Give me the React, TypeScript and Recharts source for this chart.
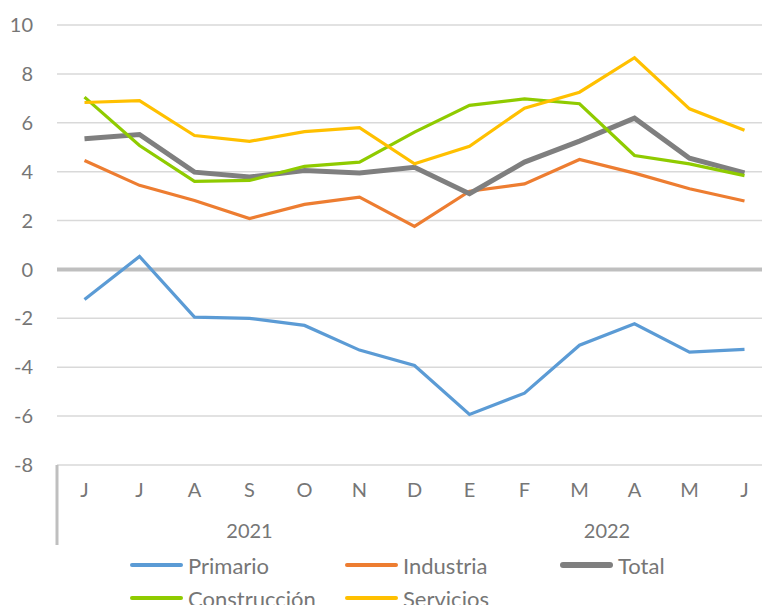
import { LineChart, Line, XAxis, YAxis, CartesianGrid, ReferenceLine } from "recharts";

const months = ["J", "J", "A", "S", "O", "N", "D", "E", "F", "M", "A", "M", "J"];
const years = ["2021", "2021", "2021", "2021", "2021", "2021", "2021", "2022", "2022", "2022", "2022", "2022", "2022"];
const primario = [-1.23, 0.53, -1.95, -2.0, -2.29, -3.3, -3.93, -5.93, -5.06, -3.1, -2.22, -3.38, -3.27];
const industria = [4.46, 3.44, 2.82, 2.08, 2.66, 2.96, 1.76, 3.2, 3.5, 4.5, 3.94, 3.3, 2.8];
const total = [5.35, 5.52, 3.98, 3.78, 4.05, 3.95, 4.18, 3.1, 4.39, 5.25, 6.19, 4.55, 3.95];
const construccion = [7.05, 5.07, 3.6, 3.64, 4.22, 4.39, 5.62, 6.71, 6.98, 6.78, 4.66, 4.32, 3.84];
const servicios = [6.83, 6.91, 5.48, 5.24, 5.64, 5.8, 4.32, 5.04, 6.6, 7.25, 8.66, 6.57, 5.69];
const yTicks = [-8, -6, -4, -2, 0, 2, 4, 6, 8, 10];

const series = [
  { key: "primario", name: "Primario", color: "#5B9BD5", width: 3.2 },
  { key: "industria", name: "Industria", color: "#ED7D31", width: 3.2 },
  { key: "total", name: "Total", color: "#7F7F7F", width: 5 },
  { key: "construccion", name: "Construcción", color: "#8FCB00", width: 3.2 },
  { key: "servicios", name: "Servicios", color: "#FFC000", width: 3.2 },
];

const data = months.map((m, i) => ({
  month: m,
  year: years[i],
  primario: primario[i],
  industria: industria[i],
  total: total[i],
  construccion: construccion[i],
  servicios: servicios[i],
}));

const W = 780;
const H = 605;
const AXIS_W = 57;
const RIGHT = 8;
const BAND = (W - AXIS_W - RIGHT) / months.length;
const FONT = "Lato, 'Open Sans', sans-serif";
const TXT = "#767676";

function MonthTick(props: any) {
  const { x, y, payload, index } = props;
  const yr = years[index];
  const first = years.indexOf(yr);
  const last = years.lastIndexOf(yr);
  return (
    <g>
      <text x={x} y={y} dy={20} textAnchor="middle" fill={TXT} fontSize={20} fontFamily={FONT}>
        {payload.value}
      </text>
      {index === first && (
        <text x={x + ((last - first) / 2) * BAND} y={y} dy={61} textAnchor="middle" fill={TXT} fontSize={20} fontFamily={FONT}>
          {yr}
        </text>
      )}
      {index === 0 && (
        <line x1={x - BAND / 2} x2={x - BAND / 2} y1={y - 12} y2={y + 68} stroke="#BFBFBF" strokeWidth={3} />
      )}
    </g>
  );
}

export default function App() {
  return (
    <div style={{ position: "absolute", left: 0, top: 0, width: 762, height: 605, overflow: "hidden", background: "#fff" }}>
      <LineChart width={W} height={H} data={data} margin={{ top: 25, right: RIGHT, left: 0, bottom: 0 }}>
        <CartesianGrid vertical={false} stroke="#D9D9D9" strokeWidth={1.5} />
        <XAxis
          dataKey="month"
          height={140}
          axisLine={false}
          tickLine={false}
          tickSize={0}
          tickMargin={12}
          interval={0}
          padding={{ left: BAND / 2, right: BAND / 2 }}
          tick={<MonthTick />}
        />
        <YAxis
          width={AXIS_W}
          domain={[-8, 10]}
          ticks={yTicks}
          axisLine={false}
          tickLine={false}
          tickSize={0}
          tickMargin={24}
          tick={{ fill: TXT, fontSize: 20, fontFamily: FONT }}
        />
        <ReferenceLine y={0} stroke="#BFBFBF" strokeWidth={4} />
        {series.map((s) => (
          <Line
            key={s.key}
            dataKey={s.key}
            name={s.name}
            stroke={s.color}
            strokeWidth={s.width}
            dot={false}
            type="linear"
            isAnimationActive={false}
          />
        ))}
      </LineChart>
      {series.map((s, i) => (
        <div
          key={s.key}
          style={{
            position: "absolute",
            left: 130 + (i % 3) * 215,
            top: 565 + Math.floor(i / 3) * 33 - 15,
            height: 30,
            display: "flex",
            alignItems: "center",
            fontFamily: FONT,
            fontSize: 22,
            color: TXT,
            whiteSpace: "nowrap",
          }}
        >
          <span style={{ display: "inline-block", width: 53, height: s.width + 1, background: s.color, borderRadius: 3, marginRight: 5 }} />
          {s.name}
        </div>
      ))}
    </div>
  );
}
